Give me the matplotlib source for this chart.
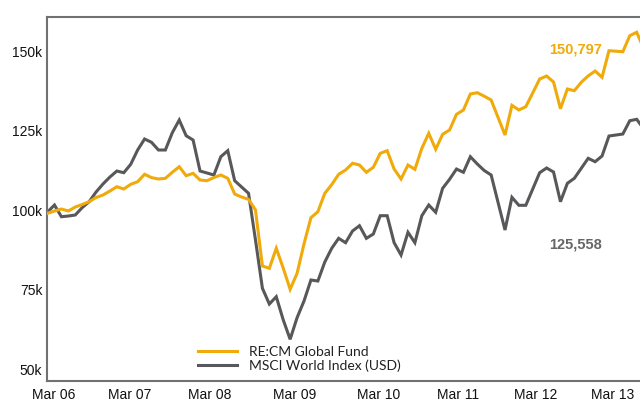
import matplotlib.pyplot as plt

# growth of 100k, values in thousands, one point per period
recm = [98.96, 99.69, 100.31, 99.69, 100.94, 101.73, 102.61, 103.93, 104.72, 105.97,
        107.33, 106.60, 108.08, 108.90, 111.23, 110.19, 109.75, 109.97, 111.86, 113.62,
        110.79, 111.54, 109.43, 109.21, 110.22, 111.01, 109.97, 105.03, 104.09, 103.36,
        100.00, 82.39, 81.67, 87.96, 81.76, 75.06, 80.09, 89.34, 97.58, 99.47,
        105.25, 107.99, 111.23, 112.58, 114.69, 114.15, 111.86, 113.43, 117.83, 118.65,
        112.89, 109.75, 114.15, 112.80, 119.40, 124.12, 119.09, 123.81, 125.16, 130.09,
        131.45, 136.48, 136.89, 135.79, 134.59, 129.09, 123.58, 132.92, 131.45, 132.48,
        136.82, 141.19, 142.14, 140.25, 131.86, 138.05, 137.52, 140.16, 142.17, 143.71,
        141.73, 150.09, 149.94, 149.78, 154.81, 155.88, 150.797]
msci = [99.37, 101.57, 97.89, 98.11, 98.43, 100.75, 102.61, 105.66, 108.18, 110.38,
        112.26, 111.73, 114.37, 118.87, 122.33, 121.29, 118.87, 118.87, 124.31, 128.30,
        123.36, 122.01, 112.26, 111.64, 111.01, 116.76, 118.65, 109.21, 107.23, 105.25,
        90.57, 75.38, 70.44, 72.74, 65.47, 59.34, 66.13, 71.38, 77.99, 77.67,
        83.65, 87.96, 91.10, 89.72, 93.40, 95.06, 91.10, 92.45, 98.21, 98.21,
        89.72, 85.85, 92.99, 89.72, 98.21, 101.57, 99.28, 106.82, 109.65, 112.89,
        111.86, 116.76, 114.47, 112.42, 111.01, 102.36, 93.71, 103.99, 101.48, 101.48,
        106.60, 111.73, 113.21, 111.95, 102.61, 108.40, 109.97, 113.11, 116.26, 115.19,
        116.98, 123.27, 123.58, 123.90, 128.08, 128.52, 125.558]
x = list(range(len(recm)))

x_labels = ["Mar 06", "Mar 07", "Mar 08", "Mar 09", "Mar 10", "Mar 11", "Mar 12", "Mar 13"]
y_ticks = [50, 75, 100, 125, 150]
y_labels = ["50k", "75k", "100k", "125k", "150k"]
names = ["RE:CM Global Fund", "MSCI World Index (USD)"]
end_labels = ["150,797", "125,558"]

yellow = "#f0aa0a"
grey = "#58585a"
axis_grey = "#707172"

fig = plt.figure(figsize=(6.4, 4.01), dpi=100)
ax = fig.add_axes([46.5 / 640, 20 / 401, 611 / 640, 363.7 / 401])

ax.plot(x, msci, color=grey, lw=2.2, solid_joinstyle="miter", label=names[1], zorder=2)
ax.plot(x, recm, color=yellow, lw=2.2, solid_joinstyle="miter", label=names[0], zorder=3)

ax.set_xlim(-0.15, 88)
ax.set_ylim(46.23, 160.6)

ax.set_xticks([0.84, 11.86, 23.45, 35.67, 47.74, 59.28, 70.39, 81.53])
ax.set_xticklabels(x_labels)
ax.set_yticks(y_ticks)
ax.set_yticklabels(y_labels)
ax.tick_params(axis="both", length=0, labelsize=10, colors="#111111")
ax.tick_params(axis="x", pad=5)
ax.tick_params(axis="y", pad=3)
for lab in ax.get_xticklabels() + ax.get_yticklabels():
    lab.set_family("Liberation Sans")

for side in ["left", "top", "bottom"]:
    ax.spines[side].set_color(axis_grey)
    ax.spines[side].set_linewidth(1.5)
ax.spines["right"].set_visible(False)

ax.text(80, 150.6, end_labels[0], ha="right", va="center", color=yellow,
        fontsize=10.5, fontweight="bold", family="Liberation Sans")
ax.text(80, 89.3, end_labels[1], ha="right", va="center", color="#666666",
        fontsize=10.5, fontweight="bold", family="Liberation Sans")

handles, labels = ax.get_legend_handles_labels()
leg = ax.legend(handles[::-1], labels[::-1], loc="upper left",
                bbox_to_anchor=(198 / 640, 0.1367), bbox_transform=fig.transFigure,
                frameon=False, borderpad=0, borderaxespad=0, handlelength=2.8,
                handletextpad=0.85, labelspacing=0.1,
                prop={"family": "Lato", "size": 10})
for t in leg.get_texts():
    t.set_color("#222222")

fig.savefig("out.png", dpi=100)
